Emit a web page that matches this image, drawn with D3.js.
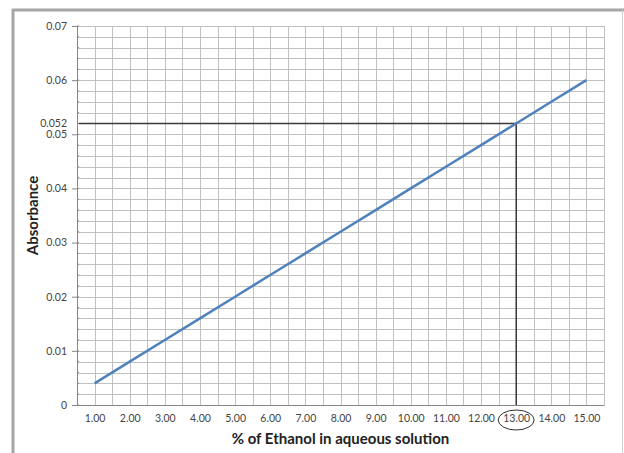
<!DOCTYPE html>
<html><head><meta charset="utf-8">
<script src="https://cdn.jsdelivr.net/npm/d3@7"></script>
<style>body{margin:0;background:#fff}svg{display:block}</style>
</head><body>
<svg id="c" width="624" height="453"></svg>
<script>
const categories = [1,2,3,4,5,6,7,8,9,10,11,12,13,14,15];
const absorbance = [0.004,0.008,0.012,0.016,0.020,0.024,0.028,0.032,0.036,0.040,0.044,0.048,0.052,0.056,0.060];
const yTicks = [0,0.01,0.02,0.03,0.04,0.05,0.06,0.07];
const readX = 13, readY = 0.052;

const svg = d3.select("#c");
const font = "Lato, 'Open Sans', sans-serif";
const x = d3.scaleLinear().domain([0.5, 15.5]).range([77, 604]);
const y = d3.scaleLinear().domain([0, 0.07]).range([405, 26]);

// frame
svg.append("line").attr("x1",13).attr("x2",13).attr("y1",9).attr("y2",453).attr("stroke","#a6a6a6").attr("stroke-width",3);
svg.append("line").attr("x1",12).attr("x2",624).attr("y1",10).attr("y2",10).attr("stroke","#a6a6a6").attr("stroke-width",3);
svg.append("line").attr("x1",622.5).attr("x2",622.5).attr("y1",10).attr("y2",453).attr("stroke","#d0d0d0").attr("stroke-width",1);

// gridlines
const g = svg.append("g");
const vx = d3.range(0.5, 15.51, 0.5);
g.selectAll(".v").data(vx).join("line")
  .attr("x1",d=>Math.round(x(d))+0.5).attr("x2",d=>Math.round(x(d))+0.5)
  .attr("y1",y(0.07)).attr("y2",y(0)).attr("stroke","#c0c0c0").attr("stroke-width",1);
const hy = d3.range(0, 0.07001, 0.002);
g.selectAll(".h").data(hy).join("line")
  .attr("x1",x(0.5)).attr("x2",x(15.5))
  .attr("y1",d=>Math.round(y(d))+0.5).attr("y2",d=>Math.round(y(d))+0.5)
  .attr("stroke","#c0c0c0").attr("stroke-width",1);

// y axis
const yAxis = d3.axisLeft(y).tickValues(yTicks).tickFormat(d=>d===0?"0":d3.format(".2f")(d)).tickSize(5).tickPadding(5);
const ya = svg.append("g").attr("transform",`translate(${x(0.5)},0)`).call(yAxis);
ya.select(".domain").attr("stroke","#868686");
ya.selectAll(".tick line").attr("stroke","#868686");
ya.selectAll("text").attr("font-family",font).attr("font-size",10.5).attr("fill","#444");
// minor ticks
svg.append("g").selectAll("line").data(hy).join("line")
  .attr("x1",x(0.5)).attr("x2",x(0.5)+2)
  .attr("y1",d=>y(d)).attr("y2",d=>y(d)).attr("stroke","#868686");

// x axis
const xAxis = d3.axisBottom(x).tickValues(categories).tickFormat(d3.format(".2f")).tickSize(0).tickPadding(10);
const xa = svg.append("g").attr("transform",`translate(0,${y(0)})`).call(xAxis);
xa.select(".domain").attr("stroke","#868686");
xa.selectAll("text").attr("font-family",font).attr("font-size",10.5).attr("fill","#444");

// reference lines
svg.append("line").attr("x1",x(0.5)+2).attr("x2",x(readX)).attr("y1",y(readY)).attr("y2",y(readY))
  .attr("stroke","#3a3a3a").attr("stroke-width",1.5);
svg.append("line").attr("x1",x(readX)).attr("x2",x(readX)).attr("y1",y(readY)).attr("y2",y(0))
  .attr("stroke","#111").attr("stroke-width",1.2);
svg.append("text").attr("x",67).attr("y",y(readY)).attr("dy","0.32em").attr("text-anchor","end")
  .attr("font-family",font).attr("font-size",10.5).attr("fill","#444").text("0.052");

// data line
const line = d3.line().x((d,i)=>x(categories[i])).y(d=>y(d));
svg.append("path").datum(absorbance).attr("d",line).attr("fill","none")
  .attr("stroke","#4f81bd").attr("stroke-width",2.5);

// ellipse around 13.00
svg.append("ellipse").attr("cx",x(readX)).attr("cy",y(0)+15).attr("rx",18).attr("ry",10)
  .attr("fill","none").attr("stroke","#333").attr("stroke-width",1);

// axis titles
svg.append("text").attr("x",(x(0.5)+x(15.5))/2).attr("y",444).attr("text-anchor","middle")
  .attr("font-family",font).attr("font-weight","bold").attr("font-size",15).attr("fill","#222")
  .text("% of Ethanol in aqueous solution");
svg.append("text").attr("transform",`translate(38,${(y(0)+y(0.07))/2}) rotate(-90)`).attr("text-anchor","middle")
  .attr("font-family",font).attr("font-weight","bold").attr("font-size",15).attr("fill","#222")
  .text("Absorbance");
</script>
</body></html>
